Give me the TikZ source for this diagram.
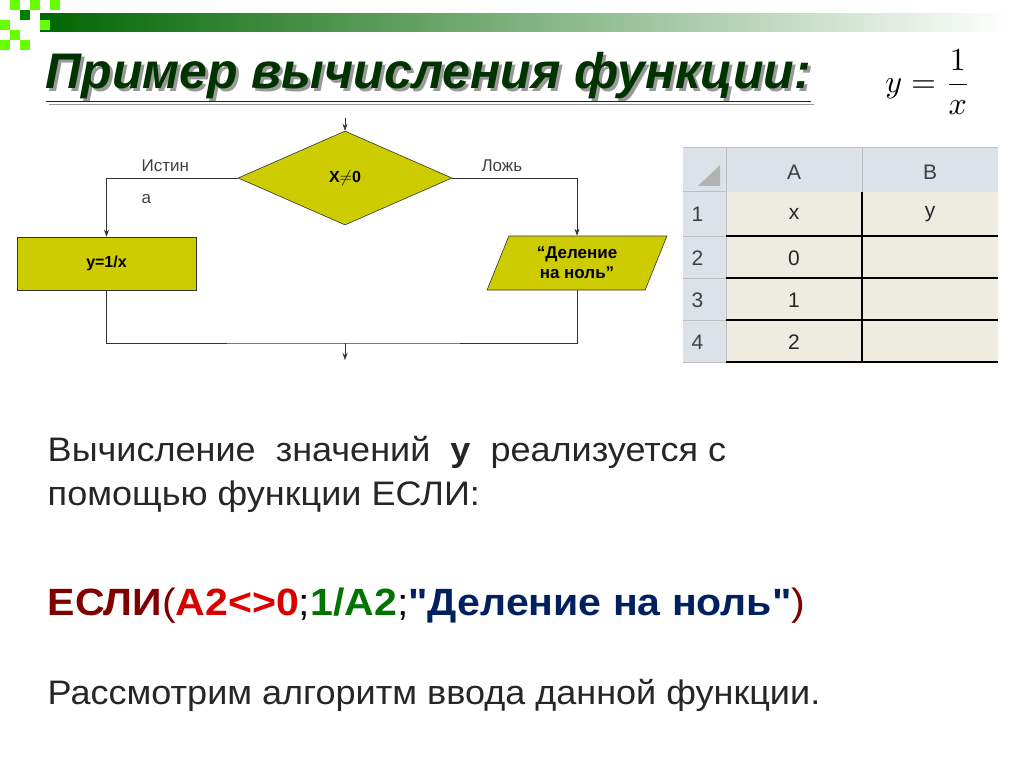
\documentclass[tikz,border=0pt]{standalone}
\usepackage{fontspec}
\setmainfont{Liberation Sans}
\newfontfamily\plainsans{Liberation Sans}
\usetikzlibrary{shapes.geometric,arrows.meta}
\definecolor{fill}{RGB}{204,204,0}
\definecolor{dg}{RGB}{0,51,0}
\definecolor{cellbg}{RGB}{238,236,225}
\definecolor{hdr}{RGB}{221,225,232}
\tikzset{
  flow/.style={draw=black!80,fill=fill,line width=0.6pt},
  conn/.style={line width=0.6pt,black!80},
  arr/.style={conn,-{Stealth[length=7pt,width=5pt]}},
  lbl/.style={font=\fontsize{17}{19}\selectfont,text=black!75,anchor=west},
  body/.style={font=\fontsize{34}{38}\selectfont,anchor=west,text=black!85,xscale=1.06},
}
\begin{document}
\begin{tikzpicture}[x=1pt,y=-1pt]
\useasboundingbox (0,0) rectangle (1024,767);
% decoration
\shade[left color=dg!75!green,right color=white] (40,14) rectangle (1010,32);
\foreach \x/\y/\c in {10/0/green!60!yellow,30/0/green!60!yellow,20/10/green!50!black,0/20/green!60!yellow,40/20/green!60!yellow,10/30/green!60!yellow,0/40/green!60!yellow,20/40/green!60!yellow,50/0/green!60!yellow}
  \fill[\c] (\x,\y) rectangle ++(10,10);
% title
\node[anchor=west,text=black!40,font=\fontsize{50}{54}\selectfont\bfseries\itshape,xscale=1.0] at (45,80) {\underline{Пример вычисления функции:}};
\node (title) [anchor=west,text=dg,font=\fontsize{50}{54}\selectfont\bfseries\itshape,xscale=1.0] at (42,77) {\underline{Пример вычисления функции:}};
\node (formula) [anchor=center,scale=3.2] at (928,82) {$\displaystyle y=\frac{1}{x}$};
% flowchart
\node (d) [flow,diamond,minimum width=214pt,minimum height=94pt,inner sep=0pt,aspect=2.3,font=\bfseries\fontsize{16}{18}\selectfont] at (345,178) {X$\neq$0};
\coordinate (top) at (345,118);
\draw[arr] (top) -- (d.north);
\node (yb) [flow,rectangle,minimum width=179pt,minimum height=53pt,font=\bfseries\fontsize{16}{18}\selectfont] at (106.5,263.5) {y=1/x};
\node (pb) [flow,trapezium,trapezium left angle=68,trapezium right angle=112,minimum width=177pt,minimum height=54pt,inner sep=0pt,align=center,font=\bfseries\fontsize{17}{20}\selectfont] at (577,263) {“Деление\\на ноль”};
\draw[arr] (d.west) -| (yb.north);
\draw[arr] (d.east) -| (pb.north);
\coordinate (m) at (345,343);
\coordinate (out) at (345,360);
\draw[conn] (yb.south) |- (m) -| (pb.south);
\draw[arr] (m) -- (out);
\node[lbl] at (138,166) {Истин};
\node[lbl] at (138,199) {а};
\node[lbl] at (478,166) {Ложь};
% table
\fill[cellbg] (683,148) rectangle (998,362);
\fill[hdr] (683,148) rectangle (998,192);
\fill[hdr] (683,148) rectangle (726,362);
\fill[gray!60] (698,186) -- (720,186) -- (720,165) -- cycle;
\draw[gray!50,line width=1pt] (683,148) -- (998,148) (683,192) -- (726,192);
\foreach \y in {236,278,320,362} \draw[gray!50,line width=1pt] (683,\y) -- (726,\y);
\draw[gray!50,line width=1pt] (726,148) -- (726,362) (862,148) -- (862,192);
\foreach \y in {236,278,320,362} \draw[black,line width=1.2pt] (726,\y) -- (998,\y);
\draw[black,line width=1.2pt] (862,192) -- (862,362);
\foreach \t/\x in {A/794,B/930} \node[font=\fontsize{21}{22}\selectfont,text=black!75] at (\x,172) {\t};
\foreach \t/\y in {1/214,2/258,3/300,4/342} \node[font=\fontsize{21}{22}\selectfont,text=black!75,anchor=west] at (688,\y) {\t};
\foreach \t/\y in {x/214,0/258,1/300,2/342} \node[font=\fontsize{21}{22}\selectfont,text=black!85] at (794,\y) {\t};
\node[font=\fontsize{21}{22}\selectfont,text=black!85] at (930,214) {y};
% text
\node (t1) [body] at (44,452) {Вычисление\ \ значений\ \ \textbf{y}\ \ реализуется с};
\node (t2) [body] at (44,497) {помощью функции ЕСЛИ:};
\node (t3) [anchor=west,font=\fontsize{38}{40}\selectfont,xscale=1.08] at (44,606) {\textcolor[RGB]{128,0,0}{\textbf{ЕСЛИ}(}\textcolor{red!85!black}{\textbf{A2<>0}};\textcolor{green!45!black}{\textbf{1/A2}};\textcolor[RGB]{0,32,96}{\textbf{{\plainsans\bfseries"}Деление на ноль{\plainsans\bfseries"}}}\textcolor[RGB]{128,0,0}{)}};
\node (t4) [body] at (44,695) {Рассмотрим алгоритм ввода данной функции.};
\end{tikzpicture}
\end{document}
